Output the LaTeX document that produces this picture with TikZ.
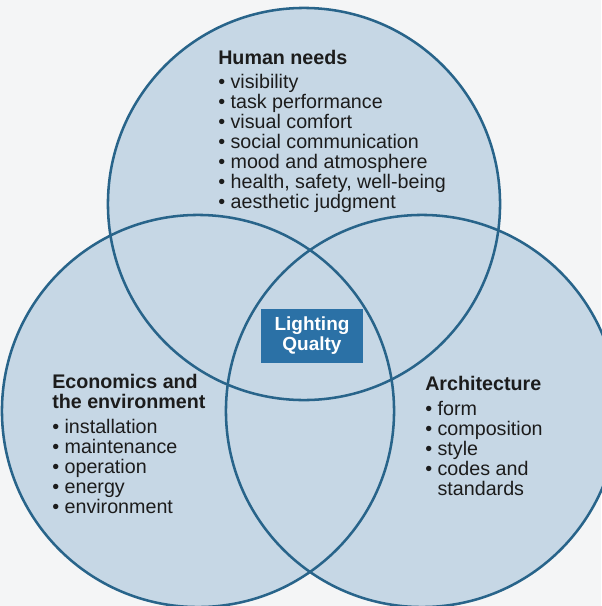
\documentclass[tikz,border=0pt]{standalone}
\usepackage{fontspec}
\setmainfont{Liberation Sans}
\usetikzlibrary{positioning}
\definecolor{Paper}{HTML}{F4F5F6}
\definecolor{Ring}{HTML}{28648A}
\definecolor{RingFill}{HTML}{C6D7E5}
\definecolor{Badge}{HTML}{2B71A6}
\definecolor{Ink}{HTML}{1C1C1C}
\tikzset{ring/.style={circle,fill=RingFill,minimum size=9.8cm,inner sep=0pt},outline/.style={draw=Ring,line width=1.8pt},blurb/.style={anchor=north west,align=left,inner sep=0pt,text=Ink,font=\fontsize{14}{14.2}\selectfont},badge/.style={fill=Badge,text=white,align=center,inner sep=0pt,minimum width=2.525cm,minimum height=1.325cm,font=\bfseries\fontsize{13.5}{14.2}\selectfont}}
\newcommand{\itm}{\textbullet\ }

\begin{document}
\begin{tikzpicture}[x=0.025cm,y=-0.025cm]
      \useasboundingbox (0,0) rectangle (601,606);
      \fill[Paper] (0,0) rectangle (601,606);
      % circles: fills first, then the rims over them
      \node[ring](human) at (304,204){};
      \node[ring](economy) at (198,411){};
      \node[ring](architecture) at (422,411){};
      \foreach \c in {human,economy,architecture} \draw[outline](\c.center) circle[radius=4.9cm];
      \node[blurb](needs) at (218,50){\textbf{Human needs}\\[2.8pt]\itm visibility\\\itm task performance\\\itm visual comfort\\\itm social communication\\\itm mood and atmosphere\\\itm health, safety, well-being\\\itm aesthetic judgment};
      \node[blurb](costs) at (52,374){\textbf{Economics and}\\\textbf{the environment}\\[3.5pt]\itm installation\\\itm maintenance\\\itm operation\\\itm energy\\\itm environment};
      \node[blurb](design) at (425,376){\textbf{Architecture}\\[3.5pt]\itm form\\\itm composition\\\itm style\\\itm codes and\\\hphantom{\itm}standards};
      \node[badge](quality) at (312,336){Lighting\\Qualty};
    \end{tikzpicture}
\end{document}
